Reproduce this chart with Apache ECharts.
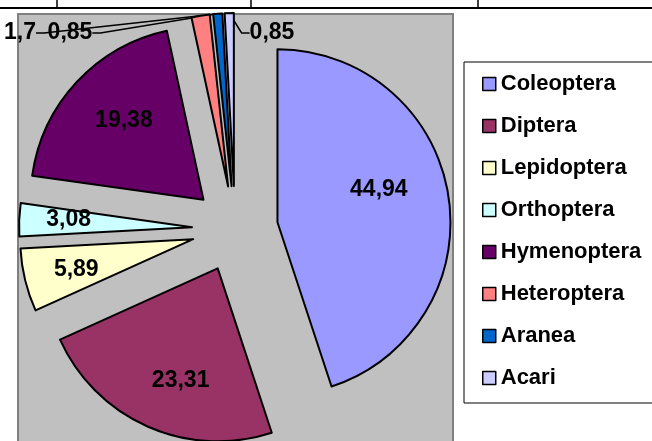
<!DOCTYPE html>
<html>
<head>
<meta charset="utf-8">
<script src="https://cdn.jsdelivr.net/npm/echarts@6/dist/echarts.min.js"></script>
<style>
html,body{margin:0;padding:0;background:#fff;}
#chart{width:652px;height:441px;}
</style>
</head>
<body>
<div id="chart"></div>
<script>
// ---- data ----
const categories = ['Coleoptera', 'Diptera', 'Lepidoptera', 'Orthoptera', 'Hymenoptera', 'Heteroptera', 'Aranea', 'Acari'];
const values = [44.94, 23.31, 5.89, 3.08, 19.38, 1.7, 0.85, 0.85];
const colors = ['#9999FF', '#993366', '#FFFFCC', '#CCFFFF', '#660066', '#FF8080', '#0066CC', '#CCCCFF'];
const tableTopTexts = ['425', '407', '420'];

// ---- style / layout (not data) ----
const FONT = '"Liberation Sans", Arial, sans-serif';
const PIE_CENTER = [235, 229];
const PIE_RADIUS = 173;
const EXPLODE = 43;
// inside label shift [dx, dy] relative to library default inside position
const insideShift = [[13, -18], [-1, 30], [-30, 9], [-34, -4], [-14, -18]];
// outside (small slice) label anchor positions
const outsideLabelPos = {5: [20, 33], 6: [70, 33], 7: [272, 33]};

function fmt(v) { return String(v).replace('.', ','); }

// exploded pie: each slice is pushed out along its bisector (like the original spreadsheet chart)
const total = values.reduce(function (a, b) { return a + b; }, 0);
function explodedCenter(i) {
  let before = 0;
  for (let k = 0; k < i; k++) before += values[k];
  const mid = (before + values[i] / 2) / total * Math.PI * 2;
  return [PIE_CENTER[0] + EXPLODE * Math.sin(mid), PIE_CENTER[1] - EXPLODE * Math.cos(mid)];
}

const series = categories.map(function (cat, i) {
  const data = values.map(function (v, j) {
    if (j !== i) {
      return {name: categories[j], value: v,
        itemStyle: {color: 'rgba(0,0,0,0)', borderWidth: 0},
        label: {show: false}, labelLine: {show: false}};
    }
    const item = {name: categories[j], value: v, itemStyle: {color: colors[j]}};
    if (j < insideShift.length) {
      item.label = {show: true, position: 'inside'};
      item.labelLine = {show: false};
    } else {
      item.label = {show: true, position: 'outside'};
      item.labelLine = {show: true, length: 8, length2: 8};
    }
    return item;
  });
  return {
    type: 'pie',
    name: cat,
    center: explodedCenter(i),
    radius: PIE_RADIUS,
    startAngle: 90,
    clockwise: true,
    avoidLabelOverlap: false,
    emphasis: {disabled: true},
    silent: true,
    itemStyle: {borderColor: '#000', borderWidth: 2},
    label: {
      formatter: function (p) { return fmt(p.value); },
      fontSize: 23, fontWeight: 'bold', fontFamily: FONT, color: '#000'
    },
    labelLine: {lineStyle: {color: '#000', width: 1.5}},
    labelLayout: function (p) {
      if (p.dataIndex !== i) return {};
      if (i < insideShift.length) return {dx: insideShift[i][0], dy: insideShift[i][1]};
      const pos = outsideLabelPos[i];
      return {x: pos[0], y: pos[1], align: 'center', verticalAlign: 'middle'};
    },
    data: data
  };
});

const chart = echarts.init(document.getElementById('chart'), null, {renderer: 'canvas'});
chart.setOption({
  animation: false,
  backgroundColor: '#ffffff',
  graphic: [
    {type: 'rect', z: -10, shape: {x: 18, y: 14, width: 435, height: 440},
      style: {fill: '#C0C0C0', stroke: '#808080', lineWidth: 2}},
    {type: 'line', shape: {x1: 0, y1: 8, x2: 652, y2: 8}, style: {stroke: '#000', lineWidth: 2}},
    {type: 'line', shape: {x1: 57, y1: 0, x2: 57, y2: 8}, style: {stroke: '#000', lineWidth: 1.5}},
    {type: 'line', shape: {x1: 251, y1: 0, x2: 251, y2: 8}, style: {stroke: '#000', lineWidth: 1.5}},
    {type: 'line', shape: {x1: 478, y1: 0, x2: 478, y2: 8}, style: {stroke: '#000', lineWidth: 1.5}},
    {type: 'text', x: 148, y: 3, style: {text: tableTopTexts[0], font: 'bold 16px ' + FONT, fill: '#000', textAlign: 'center', textVerticalAlign: 'bottom'}},
    {type: 'text', x: 300, y: 3, style: {text: tableTopTexts[1], font: 'bold 16px ' + FONT, fill: '#000', textAlign: 'center', textVerticalAlign: 'bottom'}},
    {type: 'text', x: 580, y: 3, style: {text: tableTopTexts[2], font: 'bold 16px ' + FONT, fill: '#000', textAlign: 'center', textVerticalAlign: 'bottom'}}
  ],
  legend: {
    orient: 'vertical',
    left: 464,
    top: 62,
    padding: [11, 60, 14, 18],
    borderColor: '#000',
    borderWidth: 1,
    backgroundColor: '#fff',
    itemWidth: 13,
    itemHeight: 13,
    itemGap: 20,
    icon: 'rect',
    selectedMode: false,
    itemStyle: {borderColor: '#000', borderWidth: 1.5},
    textStyle: {fontSize: 22, fontWeight: 'bold', fontFamily: FONT, color: '#000', lineHeight: 22},
    data: categories.map(function (c, i) { return {name: c, itemStyle: {color: colors[i]}}; })
  },
  series: series
});
</script>
</body>
</html>
